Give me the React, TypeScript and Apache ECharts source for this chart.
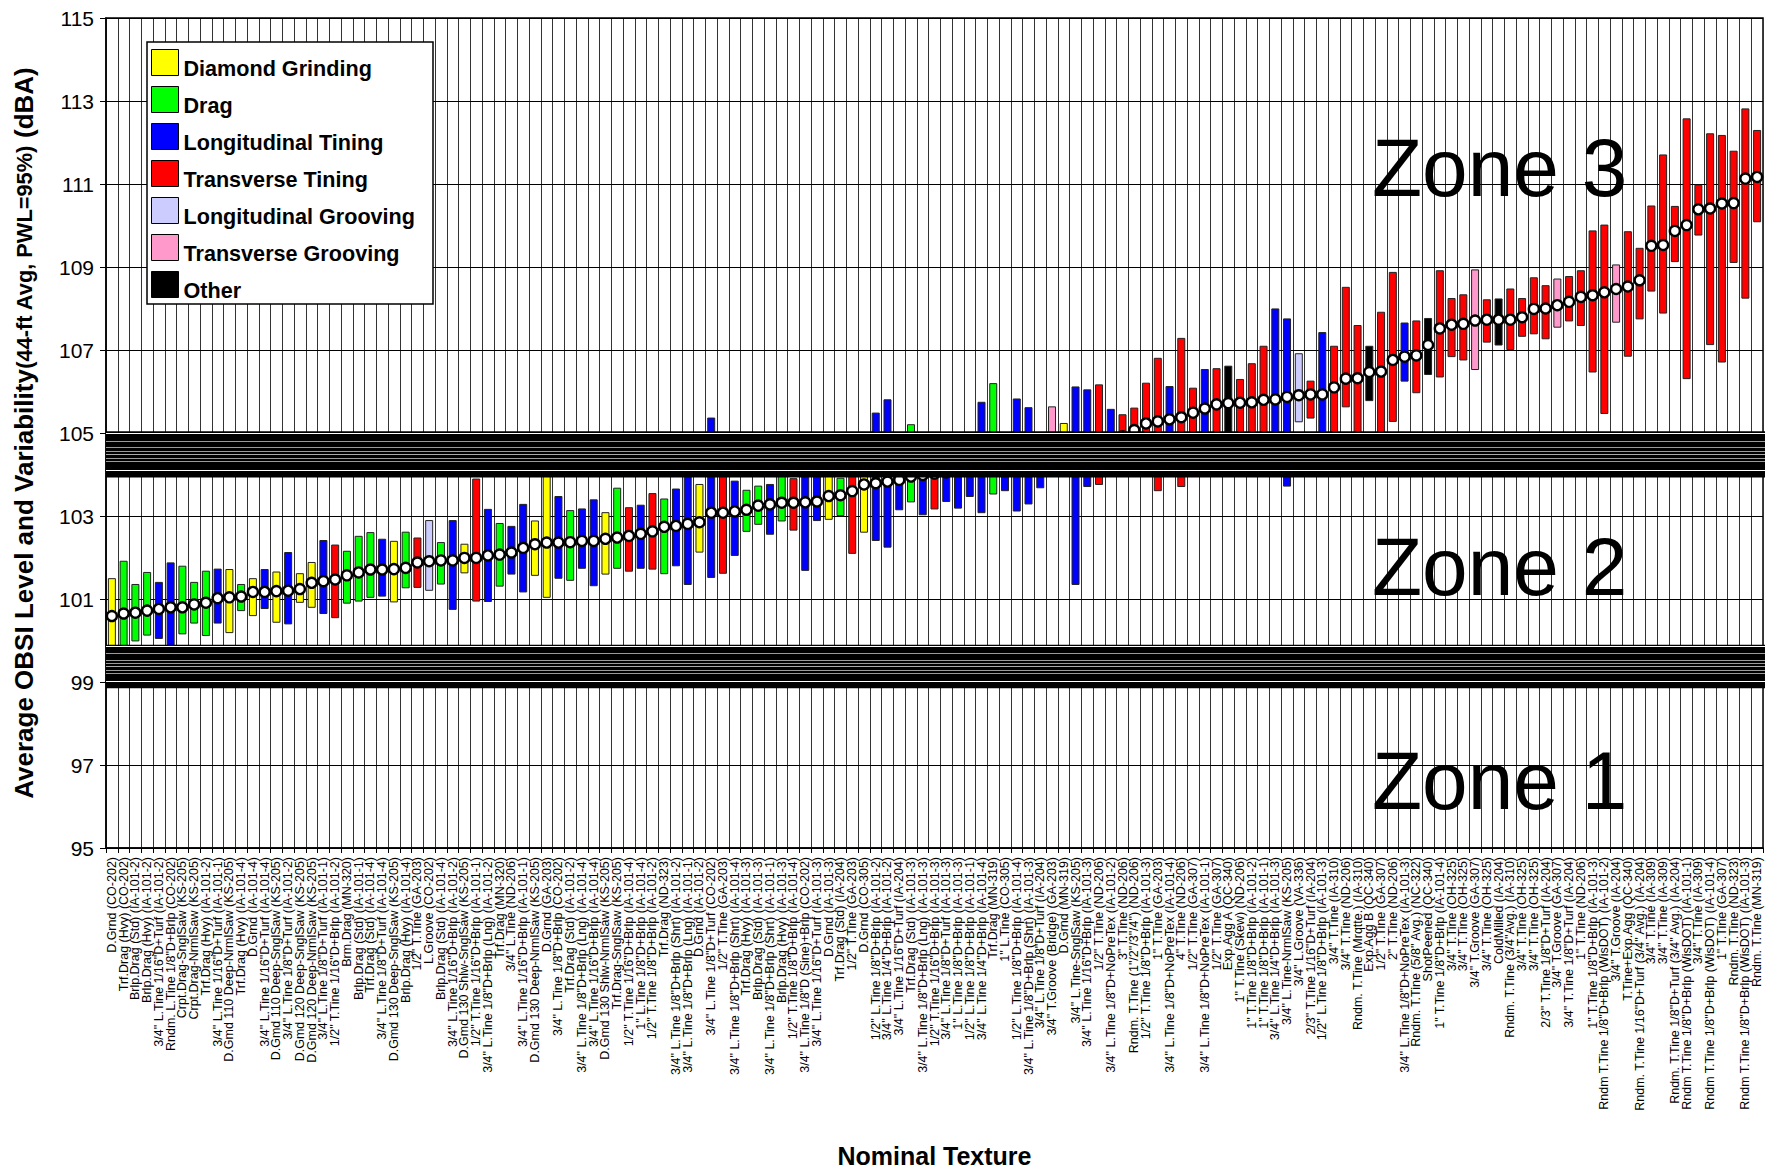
import React, { useEffect, useRef } from 'react';
import * as echarts from 'echarts';

const CATEGORIES: string[] = [
  'D.Grnd (CO-202)', 'Trf.Drag (Hvy) (CO-202)', 'Brlp.Drag (Std) (IA-101-2)', 'Brlp.Drag (Hvy) (IA-101-2)',
  '3/4" L.Tine 1/16"D+Turf (IA-101-2)', 'Rndm. L.Tine 1/8"D+Brlp (CO-202)', 'Crpt.Drag-SnglSaw (KS-205)',
  'Crpt.Drag-NrmlSaw (KS-205)', 'Trf.Drag (Hvy) (IA-101-2)', '3/4" L.Tine 1/16"D+Turf (IA-101-1)',
  'D.Gmd 110 Deep-NrmlSaw (KS-205)', 'Trf.Drag (Hvy) (IA-101-4)', 'D.Grnd (IA-101-4)',
  '3/4" L.Tine 1/16"D+Turf (IA-101-4)', 'D.Gmd 110 Deep-SnglSaw (KS-205)', '3/4" L.Tine 1/8"D+Turf (IA-101-2)',
  'D.Gmd 120 Deep-SnglSaw (KS-205)', 'D.Gmd 120 Deep-NrmlSaw (KS-205)', '3/4" L.Tine 1/8"D+Turf (IA-101-1)',
  '1/2" T.Tine 1/16"D+Brlp (IA-101-2)', 'Brm.Drag (MN-320)', 'Brlp.Drag (Std) (IA-101-1)',
  'Trf.Drag (Std) (IA-101-4)', '3/4" L.Tine 1/8"D+Turf (IA-101-4)', 'D.Gmd 130 Deep-SnglSaw (KS-205)',
  'Brlp.Drag (Hvy) (IA-101-4)', '1/2" T.Tine (GA-203)', 'L.Groove (CO-202)', 'Brlp.Drag (Std) (IA-101-4)',
  '3/4" L.Tine 1/16"D+Brlp (IA-101-2)', 'D.Gmd 130 Shlw-SnglSaw (KS-205)', '1/2" T.Tine 1/16"D+Brlp (IA-101-1)',
  '3/4" L.Tine 1/8"D+Brlp (Lng) (IA-101-2)', 'Trf.Drag (MN-320)', '3/4" L.Tine (ND-206)',
  '3/4" L.Tine 1/16"D+Brlp (IA-101-1)', 'D.Gmd 130 Deep-NrmlSaw (KS-205)', 'D.Grnd (GA-203)',
  '3/4" L.Tine 1/8"D+Brlp (CO-202)', 'Trf.Drag (Std) (IA-101-2)', '3/4" L.Tine 1/8"D+Brlp (Lng) (IA-101-4)',
  '3/4" L.Tine 1/16"D+Brlp (IA-101-4)', 'D.Gmd 130 Shlw-NrmlSaw (KS-205)', 'Trf.Drag-SnglSaw (KS-205)',
  '1/2" T.Tine 1/16"D+Brlp (IA-101-4)', '1" L.Tine 1/8"D+Brlp (IA-101-4)', '1/2" T.Tine 1/8"D+Brlp (IA-101-2)',
  'Trf.Drag (ND-323)', '3/4" L.Tine 1/8"D+Brlp (Shrt) (IA-101-2)', '3/4" L.Tine 1/8"D+Brlp (Lng) (IA-101-1)',
  'D.Grnd (IA-101-2)', '3/4" L.Tine 1/8"D+Turf (CO-202)', '1/2" T.Tine (GA-203)',
  '3/4" L.Tine 1/8"D+Brlp (Shrt) (IA-101-4)', 'Trf.Drag (Hvy) (IA-101-3)', 'Brlp.Drag (Std) (IA-101-3)',
  '3/4" L.Tine 1/8"D+Brlp (Shrt) (IA-101-1)', 'Brlp.Drag (Hvy) (IA-101-3)', '1/2" T.Tine 1/8"D+Brlp (IA-101-4)',
  '3/4" L.Tine 1/8"D (Sine)+Brlp (CO-202)', '3/4" L.Tine 1/16"D+Turf (IA-101-3)', 'D.Grnd (IA-101-3)',
  'Trf.Drag (Std) (IA-204)', '1/2" T.Tine (GA-203)', 'D.Grnd (CO-305)', '1/2" L.Tine 1/8"D+Brlp (IA-101-2)',
  '3/4" L.Tine 1/4"D+Brlp (IA-101-2)', '3/4" L.Tine 1/16"D+Turf (IA-204)', 'Trf.Drag (Std) (IA-101-3)',
  '3/4" L.Tine 1/8"D+Brlp (Lng) (IA-101-3)', '1/2" T.Tine 1/16"D+Brlp (IA-101-3)',
  '3/4" L.Tine 1/8"D+Turf (IA-101-3)', '1" L.Tine 1/8"D+Brlp (IA-101-3)', '1/2" L.Tine 1/8"D+Brlp (IA-101-1)',
  '3/4" L.Tine 1/4"D+Brlp (IA-101-4)', 'Trf.Drag (MN-319)', '1" L.Tine (CO-305)',
  '1/2" L.Tine 1/8"D+Brlp (IA-101-4)', '3/4" L.Tine 1/8"D+Brlp (Shrt) (IA-101-3)',
  '3/4" L.Tine 1/8"D+Turf (IA-204)', '3/4" T.Groove (Bridge) (GA-203)', 'D.Grnd (MN-319)',
  '3/4" L.Tine-SnglSaw (KS-205)', '3/4" L.Tine 1/16"D+Brlp (IA-101-3)', '1/2" T.Tine (ND-206)',
  '3/4" L.Tine 1/8"D+NoPreTex (IA-101-2)', '3" T.Tine (ND-206)', 'Rndm. T.Tine (1"/2"/3"/4") (ND-206)',
  '1/2" T.Tine 1/8"D+Brlp (IA-101-3)', '1" T.Tine (GA-203)', '3/4" L.Tine 1/8"D+NoPreTex (IA-101-4)',
  '4" T.Tine (ND-206)', '1/2" T.Tine (GA-307)', '3/4" L.Tine 1/8"D+NoPreTex (IA-101-1)', '1/2" T.Tine (GA-307)',
  'Exp.Agg A (QC-340)', '1" T.Tine (Skew) (ND-206)', '1" T.Tine 1/8"D+Brlp (IA-101-2)',
  '1" T.Tine 1/8"D+Brlp (IA-101-1)', '3/4" L.Tine 1/4"D+Brlp (IA-101-3)', '3/4" L.Tine-NrmlSaw (KS-205)',
  '3/4" L.Groove (VA-336)', '2/3" T.Tine 1/16"D+Turf (IA-204)', '1/2" L.Tine 1/8"D+Brlp (IA-101-3)',
  '3/4" T.Tine (IA-310)', '3/4" T.Tine (ND-206)', 'Rndm. T.Tine (Mrqtte.) (IA-310)', 'Exp.Agg B (QC-340)',
  '1/2" T.Tine (GA-307)', '2" T.Tine (ND-206)', '3/4" L.Tine 1/8"D+NoPreTex (IA-101-3)',
  'Rndm. T.Tine (5/8" Avg.) (NC-322)', 'ShotPeened (QC-340)', '1" T.Tine 1/8"D+Brlp (IA-101-4)',
  '3/4" T.Tine (OH-325)', '3/4" T.Tine (OH-325)', '3/4" T.Groove (GA-307)', '3/4" T.Tine (OH-325)',
  'ColdMilled (IA-204)', 'Rndm. T.Tine (3/4"Avg.) (IA-310)', '3/4" T.Tine (OH-325)', '3/4" T.Tine (OH-325)',
  '2/3" T.Tine 1/8"D+Turf (IA-204)', '3/4" T.Groove (GA-307)', '3/4" T.Tine 1/8"D+Turf (IA-204)',
  '1" T.Tine (ND-206)', '1" T.Tine 1/8"D+Brlp (IA-101-3)', 'Rndm T.Tine 1/8"D+Brlp (WisDOT) (IA-101-2)',
  '3/4" T.Groove (IA-204)', 'T.Tine+Exp.Agg (QC-340)', 'Rndm. T.Tine 1/16"D+Turf (3/4" Avg.) (IA-204)',
  '3/4" T.Tine (IA-309)', '3/4" T.Tine (IA-309)', 'Rndm. T.Tine 1/8"D+Turf (3/4" Avg.) (IA-204)',
  'Rndm T.Tine 1/8"D+Brlp (WisDOT) (IA-101-1)', '3/4" T.Tine (IA-309)',
  'Rndm T.Tine 1/8"D+Brlp (WisDOT) (IA-101-4)', '1" T.Tine (GA-307)', 'Rndm. T.Tine (ND-323)',
  'Rndm T.Tine 1/8"D+Brlp (WisDOT) (IA-101-3)', 'Rndm. T.Tine (MN-319)',
];

// D = Diamond Grinding, R = Drag, L = Longitudinal Tining, T = Transverse Tining,
// G = Longitudinal Grooving, P = Transverse Grooving, O = Other
const TYPES: string[] = [
  'D', 'R', 'R', 'R', 'L', 'L', 'R', 'R', 'R', 'L',
  'D', 'R', 'D', 'L', 'D', 'L', 'D', 'D', 'L', 'T',
  'R', 'R', 'R', 'L', 'D', 'R', 'T', 'G', 'R', 'L',
  'D', 'T', 'L', 'R', 'L', 'L', 'D', 'D', 'L', 'R',
  'L', 'L', 'D', 'R', 'T', 'L', 'T', 'R', 'L', 'L',
  'D', 'L', 'T', 'L', 'R', 'R', 'L', 'R', 'T', 'L',
  'L', 'D', 'R', 'T', 'D', 'L', 'L', 'L', 'R', 'L',
  'T', 'L', 'L', 'L', 'L', 'R', 'L', 'L', 'L', 'L',
  'P', 'D', 'L', 'L', 'T', 'L', 'T', 'T', 'T', 'T',
  'L', 'T', 'T', 'L', 'T', 'O', 'T', 'T', 'T', 'L',
  'L', 'G', 'T', 'L', 'T', 'T', 'T', 'O', 'T', 'T',
  'L', 'T', 'O', 'T', 'T', 'T', 'P', 'T', 'O', 'T',
  'T', 'T', 'T', 'P', 'T', 'T', 'T', 'T', 'P', 'T',
  'T', 'T', 'T', 'T', 'T', 'T', 'T', 'T', 'T', 'T',
  'T',
];

const MEAN: number[] = [
  100.59, 100.65, 100.67, 100.72, 100.76, 100.80, 100.80, 100.87, 100.91, 101.02,
  101.04, 101.06, 101.17, 101.17, 101.19, 101.20, 101.24, 101.39, 101.43, 101.47,
  101.57, 101.64, 101.71, 101.71, 101.72, 101.75, 101.88, 101.91, 101.93, 101.93,
  101.99, 101.99, 102.05, 102.07, 102.12, 102.23, 102.32, 102.36, 102.36, 102.37,
  102.40, 102.40, 102.45, 102.48, 102.52, 102.57, 102.63, 102.74, 102.76, 102.81,
  102.85, 103.08, 103.08, 103.11, 103.15, 103.25, 103.28, 103.32, 103.32, 103.33,
  103.35, 103.48, 103.50, 103.60, 103.76, 103.79, 103.83, 103.87, 103.95, 103.99,
  104.02, 104.05, 104.10, 104.14, 104.20, 104.25, 104.30, 104.35, 104.40, 104.46,
  104.52, 104.58, 104.63, 104.68, 104.75, 104.82, 104.92, 105.07, 105.23, 105.28,
  105.33, 105.38, 105.49, 105.59, 105.69, 105.72, 105.73, 105.74, 105.80, 105.81,
  105.87, 105.91, 105.93, 105.93, 106.10, 106.31, 106.32, 106.47, 106.48, 106.76,
  106.84, 106.87, 107.12, 107.52, 107.61, 107.63, 107.71, 107.73, 107.73, 107.73,
  107.79, 107.99, 108.00, 108.08, 108.16, 108.28, 108.32, 108.39, 108.47, 108.53,
  108.68, 109.51, 109.53, 109.87, 110.01, 110.39, 110.41, 110.53, 110.54, 111.13,
  111.17,
];

const LOW: number[] = [
  99.60, 99.50, 99.99, 100.13, 100.05, 99.80, 100.16, 100.42, 100.12, 100.42,
  100.19, 100.72, 100.60, 100.77, 100.44, 100.40, 100.92, 100.80, 100.65, 100.55,
  100.90, 100.95, 101.04, 101.07, 100.93, 101.27, 101.28, 101.21, 101.36, 100.75,
  101.63, 100.95, 100.94, 101.31, 101.60, 101.17, 101.57, 101.04, 101.50, 101.45,
  101.74, 101.32, 101.60, 101.74, 101.67, 101.74, 101.72, 101.61, 101.80, 101.35,
  102.13, 101.52, 101.62, 102.05, 102.63, 102.80, 102.56, 102.88, 102.66, 101.69,
  102.89, 102.92, 103.01, 102.10, 102.61, 102.41, 102.25, 103.15, 103.34, 103.03,
  103.17, 103.35, 103.19, 103.47, 103.08, 103.53, 103.61, 103.12, 103.29, 103.68,
  104.10, 104.30, 101.35, 103.71, 103.76, 104.40, 104.50, 104.50, 104.60, 103.61,
  104.50, 103.71, 104.70, 104.60, 104.50, 104.60, 104.70, 104.60, 104.50, 104.40,
  103.72, 105.27, 105.36, 104.60, 104.50, 105.63, 104.60, 105.78, 104.70, 105.28,
  106.25, 105.97, 106.41, 106.35, 106.84, 106.76, 106.53, 107.19, 107.12, 107.01,
  107.33, 107.39, 107.27, 107.55, 107.70, 107.59, 106.47, 105.47, 107.67, 106.85,
  107.75, 108.42, 107.89, 109.13, 106.31, 109.77, 107.13, 106.71, 109.11, 108.25,
  110.09,
];

const HIGH: number[] = [
  101.49, 101.91, 101.35, 101.64, 101.40, 101.87, 101.79, 101.40, 101.67, 101.72,
  101.71, 101.35, 101.49, 101.71, 101.65, 102.12, 101.61, 101.88, 102.41, 102.30,
  102.15, 102.51, 102.60, 102.44, 102.39, 102.61, 102.47, 102.89, 102.36, 102.89,
  102.32, 103.89, 103.16, 102.82, 102.75, 103.28, 102.88, 104.20, 103.47, 103.13,
  103.17, 103.39, 103.08, 103.67, 103.20, 103.26, 103.54, 103.41, 103.65, 104.30,
  103.76, 105.36, 104.50, 103.84, 103.62, 103.72, 103.76, 104.10, 103.90, 104.30,
  104.10, 104.20, 103.91, 104.40, 104.30, 105.48, 105.80, 104.40, 105.20, 104.50,
  104.60, 104.60, 104.70, 104.60, 105.74, 106.19, 104.80, 105.82, 105.61, 104.90,
  105.63, 105.23, 106.11, 106.04, 106.16, 105.57, 105.44, 105.60, 106.20, 106.80,
  106.12, 107.28, 106.08, 106.53, 106.55, 106.61, 106.29, 106.67, 107.09, 107.99,
  107.75, 106.91, 106.25, 107.42, 107.09, 108.51, 107.59, 107.09, 107.91, 108.87,
  107.65, 107.70, 107.76, 108.91, 108.24, 108.33, 108.93, 108.21, 108.23, 108.47,
  108.24, 108.74, 108.55, 108.71, 108.77, 108.91, 109.87, 110.01, 109.05, 109.85,
  109.45, 110.47, 111.70, 110.46, 112.57, 110.97, 112.21, 112.17, 111.79, 112.81,
  112.29,
];

const TYPE_CODES: string[] = ['D', 'R', 'L', 'T', 'G', 'P', 'O'];
const TYPE_NAMES: string[] = [
  'Diamond Grinding', 'Drag', 'Longitudinal Tining', 'Transverse Tining',
  'Longitudinal Grooving', 'Transverse Grooving', 'Other',
];
const TYPE_COLORS: string[] = ['#FFFF00', '#00FF00', '#0000FF', '#FF0000', '#CCCCFF', '#FF99CC', '#000000'];

const Y_TICKS: number[] = [95, 97, 99, 101, 103, 105, 107, 109, 111, 113, 115];
const BREAK_BANDS: number[][] = [[103.93, 105.04], [98.85, 99.9]];
const ZONE_LABELS: string[] = ['Zone 3', 'Zone 2', 'Zone 1'];

const FONT = '"Liberation Sans", Arial, Helvetica, sans-serif';

// stripes inside the break bands: [fraction of band height, colour]
const STRIPES: [number, string][] = [
  [0.04, '#ffffff'], [0.2, '#9a9a9a'], [0.35, '#9a9a9a'], [0.43, '#9a9a9a'],
  [0.5, '#aaaaaa'], [0.58, '#9a9a9a'], [0.64, '#9a9a9a'], [0.84, '#ffffff'],
];

export default function App() {
  const ref = useRef<HTMLDivElement>(null);

  useEffect(() => {
    document.body.style.margin = '0';
    if (!ref.current) return;
    const chart = echarts.init(ref.current, null, { renderer: 'svg' });

    const barSeries = TYPE_CODES.map((code, k) => ({
      type: 'custom',
      name: TYPE_NAMES[k],
      z: 2,
      silent: true,
      itemStyle: { color: TYPE_COLORS[k] },
      encode: { x: 0, y: [1, 2] },
      data: CATEGORIES.map((_, i) => i)
        .filter((i) => TYPES[i] === code)
        .map((i) => [i, LOW[i], HIGH[i]]),
      renderItem: (params: any, api: any) => {
        const x = api.value(0);
        const pTop = api.coord([x, api.value(2)]);
        const pBot = api.coord([x, api.value(1)]);
        const w = 7;
        return {
          type: 'rect',
          shape: { x: pTop[0] - w / 2, y: pTop[1], width: w, height: pBot[1] - pTop[1] },
          style: { fill: TYPE_COLORS[k], stroke: '#222', lineWidth: 1 },
        };
      },
    }));

    const option: any = {
      animation: false,
      textStyle: { fontFamily: FONT, color: '#000' },
      grid: {
        left: 106, right: 9, top: 18, bottom: 321,
        show: true, borderColor: '#000', borderWidth: 1.5, backgroundColor: 'transparent',
      },
      legend: {
        data: TYPE_NAMES,
        orient: 'vertical',
        left: 147,
        top: 42,
        backgroundColor: '#fff',
        borderColor: '#000',
        borderWidth: 1.5,
        padding: [7, 18, 3, 4],
        itemWidth: 27,
        itemHeight: 26,
        itemGap: 7,
        icon: 'rect',
        selectedMode: false,
        itemStyle: { borderColor: '#000', borderWidth: 1 },
        formatter: '{t|{name}}',
        textStyle: {
          fontFamily: FONT, fontSize: 21.6, fontWeight: 'bold', color: '#000',
          padding: [11, 0, 0, 0],
          rich: {
            t: { fontFamily: FONT, fontSize: 21.6, fontWeight: 'bold', color: '#000', lineHeight: 10 },
          },
        },
      },
      xAxis: {
        type: 'category',
        data: CATEGORIES,
        boundaryGap: true,
        name: 'Nominal Texture',
        nameLocation: 'middle',
        nameGap: 295,
        nameTextStyle: { fontFamily: FONT, fontSize: 25, fontWeight: 'bold', color: '#000' },
        axisLine: { show: true, lineStyle: { color: '#000', width: 1.5 } },
        axisTick: { show: true, interval: 0, length: 5, lineStyle: { color: '#000' } },
        axisLabel: { interval: 0, rotate: 90, fontSize: 12.5, color: '#000', margin: 9, fontFamily: FONT },
        splitLine: { show: true, interval: 0, lineStyle: { color: '#333', width: 1 } },
      },
      yAxis: {
        type: 'value',
        min: 95,
        max: 115,
        name: '{b|Average OBSI Level and Variability}{s|(44-ft Avg, PWL=95%)}{b| (dBA)}',
        nameLocation: 'middle',
        nameRotate: 90,
        nameGap: 69,
        nameTextStyle: {
          rich: {
            b: { fontFamily: FONT, fontSize: 26, fontWeight: 'bold', color: '#000' },
            s: { fontFamily: FONT, fontSize: 21.8, fontWeight: 'bold', color: '#000' },
          },
        },
        axisLine: { show: true, lineStyle: { color: '#000', width: 1.5 } },
        axisTick: { show: true, customValues: Y_TICKS, length: 6, lineStyle: { color: '#000' } },
        axisLabel: { customValues: Y_TICKS, fontSize: 21, color: '#000', margin: 12, fontFamily: FONT },
        splitLine: { show: false },
      },
      graphic: ZONE_LABELS.map((t, i) => ({
        type: 'text',
        x: 1372,
        y: [167, 566, 780][i],
        z: 20,
        silent: true,
        style: { text: t, fontSize: 82, fontFamily: FONT, fill: '#000', verticalAlign: 'middle' },
      })),
      series: [
        {
          type: 'custom',
          name: 'hgrid',
          z: 1,
          silent: true,
          encode: { x: 0, y: 1 },
          data: Y_TICKS.map((v) => [0, v]),
          renderItem: (params: any, api: any) => {
            const cs = params.coordSys;
            const y = Math.round(api.coord([0, api.value(1)])[1]) + 0.5;
            return {
              type: 'line',
              shape: { x1: cs.x, y1: y, x2: cs.x + cs.width, y2: y },
              style: { stroke: '#000', lineWidth: 1 },
            };
          },
        },
        ...barSeries,
        {
          type: 'scatter',
          name: 'mean',
          z: 3,
          silent: true,
          symbol: 'circle',
          symbolSize: 10,
          itemStyle: { color: '#fff', borderColor: '#000', borderWidth: 2.4, opacity: 1 },
          data: MEAN.map((m, i) => [i, m]),
        },
        {
          type: 'custom',
          name: 'breaks',
          z: 10,
          silent: true,
          encode: { x: 0, y: [1, 2] },
          data: BREAK_BANDS.map((b) => [0, b[0], b[1]]),
          renderItem: (params: any, api: any) => {
            const cs = params.coordSys;
            const yBot = api.coord([0, api.value(1)])[1];
            const yTop = api.coord([0, api.value(2)])[1];
            const h = yBot - yTop;
            const children: any[] = [
              { type: 'rect', shape: { x: cs.x, y: yTop, width: cs.width + 2, height: h }, style: { fill: '#000' } },
            ];
            STRIPES.forEach(([f, c]) => {
              children.push({
                type: 'rect',
                shape: { x: cs.x, y: Math.round(yTop + f * h), width: cs.width + 2, height: 1 },
                style: { fill: c },
              });
            });
            return { type: 'group', children };
          },
        },
      ],
    };

    chart.setOption(option);
    return () => chart.dispose();
  }, []);

  return <div ref={ref} style={{ width: 1772, height: 1173 }} />;
}
